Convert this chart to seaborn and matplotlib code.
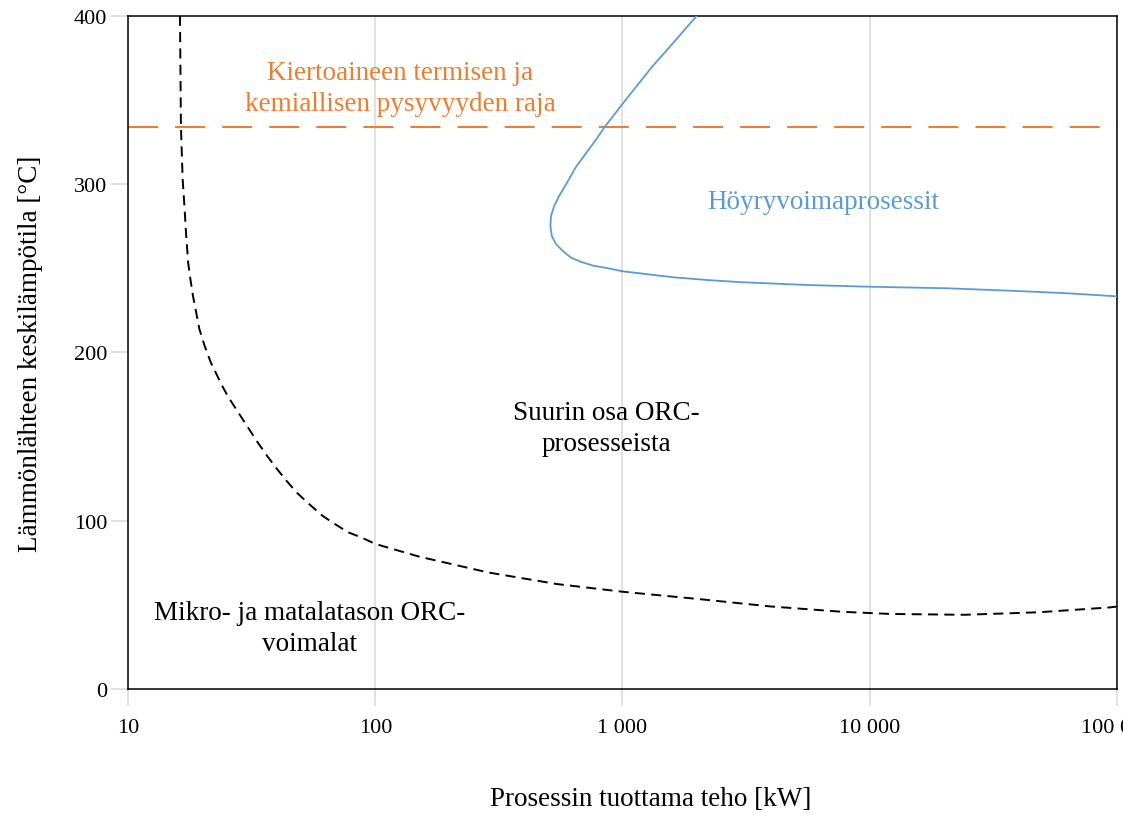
import matplotlib
matplotlib.use("Agg")
import matplotlib.pyplot as plt
import seaborn as sns
import pandas as pd
from matplotlib.ticker import FixedLocator, NullLocator, FixedFormatter

# ---- data ----
# Black dashed boundary: micro / small-scale ORC vs. most ORC processes
orc_power_kw = [16.19, 16.34, 16.6, 16.94, 17.09, 17.47, 17.84, 18.27, 18.83, 19.4,
                20.36, 21.57, 22.56, 23.97, 25.44, 27.85, 30.49, 33.38, 36.43, 40.0,
                43.65, 47.9, 53.93, 61.0, 68.6, 77.6, 87.6, 100, 150, 285,
                541, 1000, 2020, 3947, 7724, 12150, 24210, 48270, 93980, 100000]
orc_temp_c = [400, 334, 303, 283.3, 273.3, 253.5, 243.6, 233.7, 223.8, 213.9,
              204.0, 194.1, 188.2, 180.2, 173.3, 164.4, 155.5, 146.6, 138.6, 130.7,
              123.8, 116.9, 109.9, 103.0, 98.0, 93.1, 90.1, 86.2, 78.7, 69.3,
              62.4, 57.8, 53.5, 49.1, 45.9, 44.6, 44.1, 45.6, 48.5, 49.0]

# Blue boundary: steam power processes
steam_power_kw = [2001, 1821, 1656, 1507, 1328, 1000, 846, 780, 717, 647,
                  598, 555, 530, 514, 511, 517, 538, 572, 616, 675,
                  762, 873, 1000, 1605, 2200, 3017, 5669, 10000, 20410, 39040,
                  63500, 100000]
steam_temp_c = [400, 393.2, 386.2, 379.3, 370.3, 347.6, 333.8, 326.2, 318.9, 310.0,
                301.1, 293.1, 287.2, 281.2, 275.3, 269.3, 264.4, 260.4, 256.5, 253.9,
                251.5, 250.0, 248.2, 244.6, 243.0, 241.7, 240.0, 239.0, 238.1, 236.5,
                235.1, 233.3]

# Thermal / chemical stability limit of the working fluid
stability_limit_c = 334

x_ticks = [10, 100, 1000, 10000, 100000]
x_tick_labels = ["10", "100", "1 000", "10 000", "100 000"]
y_ticks = [0, 100, 200, 300, 400]

label_limit = "Kiertoaineen termisen ja\nkemiallisen pysyvyyden raja"
label_steam = "Höyryvoimaprosessit"
label_orc = "Suurin osa ORC-\nprosesseista"
label_micro = "Mikro- ja matalatason ORC-\nvoimalat"
x_label = "Prosessin tuottama teho [kW]"
y_label = "Lämmönlähteen keskilämpötila [°C]"

# ---- styling ----
sns.set_style("white")
plt.rcParams["font.family"] = ["Liberation Serif", "DejaVu Serif"]
plt.rcParams["text.color"] = "black"
plt.rcParams["axes.labelcolor"] = "black"
plt.rcParams["xtick.labelcolor"] = "black"
plt.rcParams["ytick.labelcolor"] = "black"

ORANGE = "#ED7D31"
BLUE = "#5B9BD5"
GRID = "#D9D9D9"

fig = plt.figure(figsize=(11.23, 8.2), dpi=100)
ax = fig.add_axes([0.1142, 0.1585, 0.8802, 0.8211])

ax.set_xscale("log")
ax.set_xlim(10, 100000)
ax.set_ylim(0, 400)

df_orc = pd.DataFrame({"power": orc_power_kw, "temp": orc_temp_c})
df_steam = pd.DataFrame({"power": steam_power_kw, "temp": steam_temp_c})

sns.lineplot(data=df_orc, x="power", y="temp", sort=False, estimator=None,
             color="black", linewidth=1.4, ax=ax,
             linestyle=(0, (5.2, 3.2)), zorder=3)
sns.lineplot(data=df_steam, x="power", y="temp", sort=False, estimator=None,
             color=BLUE, linewidth=1.3, ax=ax, zorder=3)
ax.axhline(stability_limit_c, color=ORANGE, linewidth=1.5,
           linestyle=(0, (14.4, 8.2)), zorder=2)

# grid & ticks
ax.xaxis.set_major_locator(FixedLocator(x_ticks))
ax.xaxis.set_major_formatter(FixedFormatter(x_tick_labels))
ax.xaxis.set_minor_locator(NullLocator())
ax.set_yticks(y_ticks)
ax.grid(axis="x", color=GRID, linewidth=1.1)
ax.grid(axis="y", visible=False)
ax.set_axisbelow(True)

ax.tick_params(axis="x", which="major", length=12, width=1.1, color=GRID,
               labelsize=16, pad=9, bottom=True, labelcolor="black")
ax.tick_params(axis="y", which="major", length=12, width=1.1, color=GRID,
               labelsize=16, pad=3, left=True, labelcolor="black")

for s in ax.spines.values():
    s.set_visible(True)
    s.set_color("black")
    s.set_linewidth(1.1)

ax.set_xlabel(x_label, fontsize=19.5, color="black")
ax.set_ylabel(y_label, fontsize=19.5, color="black")
ax.xaxis.set_label_coords(0.5288, -0.144)
ax.yaxis.set_label_coords(-0.0863, 0.5)

# annotations
ax.text(0.2749, 0.8926, label_limit, transform=ax.transAxes, color=ORANGE,
        fontsize=19.5, ha="center", va="center", linespacing=1.3)
ax.text(0.7029, 0.7248, label_steam, transform=ax.transAxes, color=BLUE,
        fontsize=19.5, ha="center", va="center")
ax.text(0.4840, 0.3876, label_orc, transform=ax.transAxes, color="black",
        fontsize=19.5, ha="center", va="center", linespacing=1.3)
ax.text(0.1833, 0.0906, label_micro, transform=ax.transAxes, color="black",
        fontsize=19.5, ha="center", va="center", linespacing=1.3)

if ax.get_legend() is not None:
    ax.get_legend().remove()

fig.savefig("out.png", dpi=100)
